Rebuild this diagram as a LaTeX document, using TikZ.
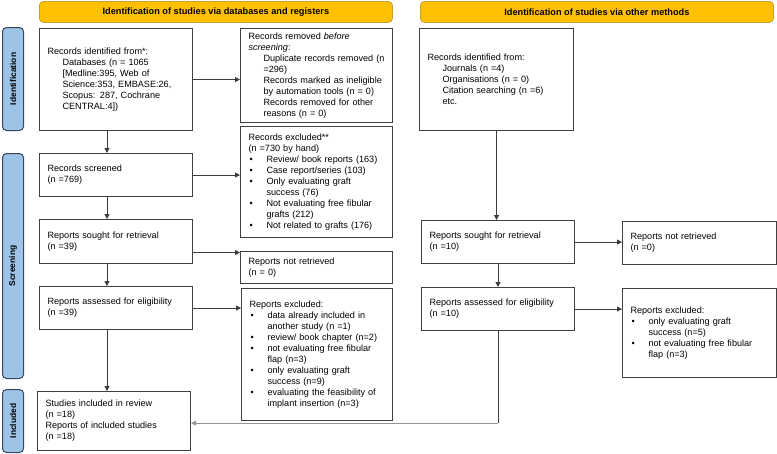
\documentclass[tikz,border=0pt]{standalone}
\usepackage{fontspec}
\setmainfont{Liberation Sans}
\usetikzlibrary{arrows.meta,calc}
\setlength{\parindent}{0pt}
\definecolor{boxc}{RGB}{64,64,64}
\definecolor{linec}{RGB}{60,60,60}
\definecolor{lightline}{RGB}{150,150,150}
\definecolor{hdrfill}{HTML}{FFC000}
\definecolor{hdrdraw}{RGB}{200,160,50}
\definecolor{sidefill}{HTML}{9DC3E6}
\definecolor{sidedraw}{RGB}{55,70,90}
\newcommand\ind[1]{\par\hspace*{15pt}\mbox{#1}}
\newcommand\bul[1]{\par\makebox[18pt][l]{\hspace{1pt}\textbullet}\mbox{#1}}
\newcommand\cont[1]{\par\hspace*{18pt}\mbox{#1}}
\tikzset{
  pbox/.style={draw=boxc, line width=1.1pt, inner xsep=8pt, inner ysep=0pt,
    align=left, anchor=north west, font=\fontsize{9.1}{11}\selectfont},
  hdr/.style={draw=hdrdraw, fill=hdrfill, line width=0.8pt, rounded corners=4pt,
    anchor=north west, font=\fontsize{9.2}{11}\selectfont\bfseries, inner sep=0pt},
  sidebar/.style={draw=sidedraw, fill=sidefill, line width=1pt, rounded corners=4pt,
    anchor=north west, inner sep=0pt, minimum width=21pt},
  sidelabel/.style={rotate=90, font=\fontsize{8.4}{10}\selectfont\bfseries, inner sep=0pt},
  arr/.style={draw=linec, line width=0.8pt, -{Triangle[length=5pt,width=5pt]}},
  plain/.style={draw=linec, line width=0.8pt},
}
\begin{document}
\begin{tikzpicture}[x=1pt,y=-1pt]
\useasboundingbox (0,0) rectangle (777,453);
\fill[white] (0,0) rectangle (777,453);

% headers
\node[hdr, minimum width=353pt, minimum height=21pt] (hl) at (39,1) {Identification of studies via databases and registers};
\node[hdr, minimum width=353pt, minimum height=21pt] (hr) at (420,1) {Identification of studies via other methods};

% side bars
\node[sidebar, minimum height=103pt] (sbI) at (2,27) {};
\node[sidelabel] (sbIt) at (sbI.center) {Identification};
\node[sidebar, minimum height=225pt] (sbS) at (2,153) {};
\node[sidelabel] (sbSt) at (sbS.center) {Screening};
\node[sidebar, minimum height=63pt] (sbN) at (2,389) {};
\node[sidelabel] (sbNt) at (sbN.center) {Included};

% left column
\node[pbox, text width=137pt, minimum height=102pt] (idL) at (39,28) {Records identified from*:\ind{Databases (n = 1065}\ind{[Medline:395, Web of}\ind{Science:353, EMBASE:26,}\ind{Scopus: 287, Cochrane}\ind{CENTRAL:4])}};
\node[pbox, text width=136pt, minimum height=94pt] (rem) at (240,28) {Records removed \textit{before}\par\textit{screening}:\ind{Duplicate records removed (n}\ind{=296)}\ind{Records marked as ineligible}\ind{by automation tools (n = 0)}\ind{Records removed for other}\ind{reasons (n = 0)}};
\node[pbox, text width=137pt, minimum height=43pt] (scr) at (39,153) {Records screened\par(n =769)};
\node[pbox, text width=136pt, minimum height=111pt] (exc) at (240,126) {Records excluded**\par(n =730 by hand)\bul{Review/ book reports (163)}\bul{Case report/series (103)}\bul{Only evaluating graft}\cont{success (76)}\bul{Not evaluating free fibular}\cont{grafts (212)}\bul{Not related to grafts (176)}};
\node[pbox, text width=137pt, minimum height=44pt] (sought) at (39,219) {Reports sought for retrieval\par(n =39)};
\node[pbox, text width=136pt, minimum height=32pt] (notret) at (240,251) {Reports not retrieved\par(n = 0)};
\node[pbox, text width=137pt, minimum height=43pt] (assess) at (39,286) {Reports assessed for eligibility\par(n =39)};
\node[pbox, text width=135pt, minimum height=132pt] (excl) at (241,288) {Reports excluded:\bul{data already included in}\cont{another study (n =1)}\bul{review/ book chapter (n=2)}\bul{not evaluating free fibular}\cont{flap (n=3)}\bul{only evaluating graft}\cont{success (n=9)}\bul{evaluating the feasibility of}\cont{implant insertion (n=3)}};
\node[pbox, text width=137pt, minimum height=59pt] (incl) at (37,391) {Studies included in review\par(n =18)\par Reports of included studies\par(n =18)};

% right column
\node[pbox, text width=138pt, minimum height=102pt] (idR) at (419,28) {Records identified from:\ind{Journals (n =4)}\ind{Organisations (n = 0)}\ind{Citation searching (n =6)}\ind{etc.}};
\node[pbox, text width=137pt, minimum height=43pt] (soughtR) at (421,220) {Reports sought for retrieval\par(n =10)};
\node[pbox, text width=138pt, minimum height=43pt] (notretR) at (622,221) {Reports not retrieved\par(n =0)};
\node[pbox, text width=137pt, minimum height=43pt] (assessR) at (421,287) {Reports assessed for eligibility\par(n =10)};
\node[pbox, text width=138pt, minimum height=89pt] (exclR) at (622,288) {Reports excluded:\bul{only evaluating graft}\cont{success (n=5)}\bul{not evaluating free fibular}\cont{flap (n=3)}};

% connectors, left
\draw[arr] (idL.east) -- (rem.west |- idL.east);
\draw[arr] ([xshift=68pt]idL.south west) -- ([xshift=68pt]idL.south west |- scr.north);
\draw[arr] (scr.east) -- (exc.west |- scr.east);
\draw[arr] ([xshift=68pt]scr.south west) -- ([xshift=68pt]scr.south west |- sought.north);
\coordinate (sre) at ([yshift=-11pt]sought.east);
\draw[arr] (sre) -- (notret.west |- sre);
\draw[arr] ([xshift=68pt]sought.south west) -- ([xshift=68pt]sought.south west |- assess.north);
\draw[arr] (assess.east) -- (excl.west |- assess.east);
\draw[arr] ([xshift=68pt]assess.south west) -- ([xshift=68pt]assess.south west |- incl.north);

% connectors, right
\draw[arr] (idR.south) -- (idR.south |- soughtR.north);
\draw[arr] (soughtR.east) -- (notretR.west |- soughtR.east);
\draw[arr] (soughtR.south) -- (soughtR.south |- assessR.north);
\draw[arr] (assessR.east) -- (exclR.west |- assessR.east);
\coordinate (corner) at ($(assessR.south) + (0,92)$);
\draw[plain] (assessR.south) -- (corner);
\draw[arr, draw=lightline, line width=1.2pt] (corner) -- (incl.east |- corner);
\end{tikzpicture}
\end{document}
